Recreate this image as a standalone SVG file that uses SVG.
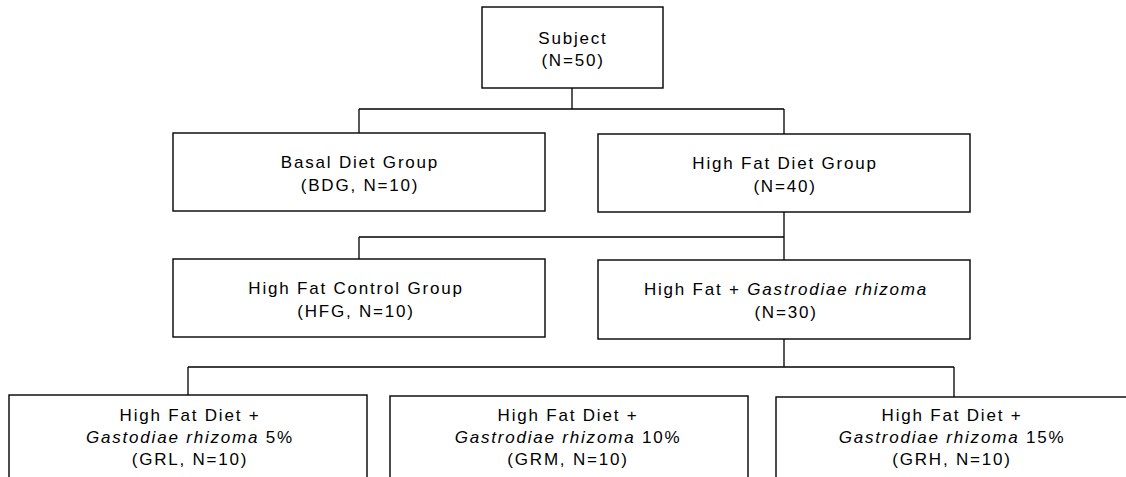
<svg xmlns="http://www.w3.org/2000/svg" width="1126" height="477" viewBox="0 0 1126 477">
<style>
.box{fill:#fff;stroke:#000;stroke-width:1.4}
.ln{fill:none;stroke:#000;stroke-width:1.3}
text{font-family:"Liberation Sans",Arial,sans-serif;font-size:17px;letter-spacing:1.8px;fill:#000;text-anchor:middle}
.it{font-style:italic}
</style>
<rect width="1126" height="477" fill="#fff"/>
<g id="connectors">
<path class="ln" d="M572,88 V109 M359,109 H784 M359,109 V133 M784,109 V134"/>
<path class="ln" d="M784,212 V237 M359,237 H784 M359,237 V259 M784,237 V260"/>
<path class="ln" d="M784,339 V367 M188,367 H954 M188,367 V395 M954,367 V397"/>
</g>
<g id="subject">
<rect class="box" x="482" y="7" width="181" height="81"/>
<text x="573" y="44">Subject</text>
<text x="573" y="66">(N=50)</text>
</g>
<g id="bdg">
<rect class="box" x="173" y="133" width="372" height="78"/>
<text x="360" y="168">Basal Diet Group</text>
<text x="360" y="191">(BDG, N=10)</text>
</g>
<g id="hfd">
<rect class="box" x="598" y="134" width="372" height="78"/>
<text x="785" y="169">High Fat Diet Group</text>
<text x="785" y="192">(N=40)</text>
</g>
<g id="hfg">
<rect class="box" x="173" y="259" width="372" height="78"/>
<text x="356" y="294">High Fat Control Group</text>
<text x="356" y="317">(HFG, N=10)</text>
</g>
<g id="hfgr">
<rect class="box" x="598" y="260" width="372" height="79"/>
<text x="786" y="295">High Fat + <tspan class="it">Gastrodiae rhizoma</tspan></text>
<text x="786" y="318">(N=30)</text>
</g>
<g id="grl">
<rect class="box" x="9" y="395" width="358" height="100"/>
<text x="190" y="421">High Fat Diet +</text>
<text x="190" y="443"><tspan class="it">Gastodiae rhizoma</tspan> 5%</text>
<text x="190" y="465">(GRL, N=10)</text>
</g>
<g id="grm">
<rect class="box" x="390" y="396" width="358" height="100"/>
<text x="568" y="421">High Fat Diet +</text>
<text x="568" y="443"><tspan class="it">Gastrodiae rhizoma</tspan> 10%</text>
<text x="568" y="465">(GRM, N=10)</text>
</g>
<g id="grh">
<rect class="box" x="776" y="397" width="380" height="100"/>
<text x="952" y="421">High Fat Diet +</text>
<text x="952" y="443"><tspan class="it">Gastrodiae rhizoma</tspan> 15%</text>
<text x="952" y="465">(GRH, N=10)</text>
</g>
</svg>
